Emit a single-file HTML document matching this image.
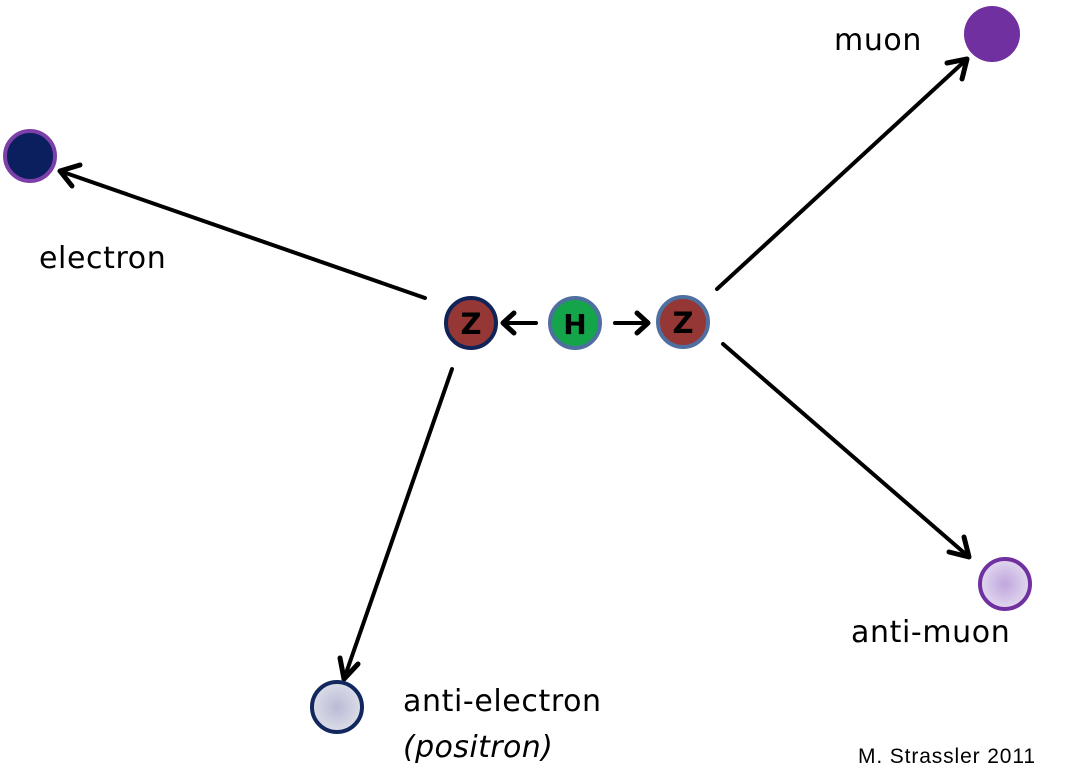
<!DOCTYPE html>
<html><head><meta charset="utf-8"><style>
html,body{margin:0;padding:0;background:#fff;width:1080px;height:779px;overflow:hidden}
svg{display:block}
text{font-family:"DejaVu Sans","Liberation Sans",sans-serif;fill:#000}
</style></head><body>
<svg width="1080" height="779" viewBox="0 0 1080 779" xmlns="http://www.w3.org/2000/svg">
<defs>
<radialGradient id="ge" cx="50%" cy="50%" r="50%"><stop offset="0" stop-color="#b9bbd6"/><stop offset="1" stop-color="#dcdde8"/></radialGradient>
<radialGradient id="gm" cx="50%" cy="50%" r="50%"><stop offset="0" stop-color="#bfa6dc"/><stop offset="1" stop-color="#e2d8ef"/></radialGradient>
</defs>
<g stroke="#000" stroke-width="4" fill="none" stroke-linecap="round" stroke-linejoin="round">
<line x1="425" y1="298" x2="60" y2="171"/>
<polyline points="80,165 60,171 72,186" stroke-width="5"/>
<line x1="717" y1="289" x2="967" y2="59"/>
<polyline points="947,63 967,59 962,79" stroke-width="5"/>
<line x1="723" y1="344" x2="969" y2="557"/>
<polyline points="964,537 969,557 949,552" stroke-width="5"/>
<line x1="452" y1="369" x2="344" y2="679"/>
<polyline points="340,658 344,679 358,664" stroke-width="5"/>
<line x1="536" y1="323" x2="503" y2="323"/>
<polyline points="514,313 503,323 514,333" stroke-width="5"/>
<line x1="615" y1="323" x2="648" y2="323"/>
<polyline points="637,313 648,323 637,333" stroke-width="5"/>
</g>
<circle cx="30" cy="156" r="25" fill="#0b1f5e" stroke="#7d40a8" stroke-width="4"/>
<circle cx="992" cy="34" r="28" fill="#7030a0"/>
<circle cx="1005" cy="584" r="25" fill="url(#gm)" stroke="#7030a0" stroke-width="4"/>
<circle cx="337" cy="707" r="25" fill="url(#ge)" stroke="#12275e" stroke-width="4"/>
<circle cx="471" cy="323" r="25" fill="#953735" stroke="#10245a" stroke-width="4"/>
<circle cx="575" cy="323" r="25" fill="#14a44a" stroke="#4f6fa0" stroke-width="4"/>
<circle cx="683" cy="322" r="25" fill="#953735" stroke="#4f6fa0" stroke-width="4"/>
<text x="471" y="334" font-size="29" text-anchor="middle" font-weight="bold">Z</text>
<text x="575" y="334" font-size="28" text-anchor="middle" font-weight="bold">H</text>
<text x="683" y="333" font-size="29" text-anchor="middle" font-weight="bold">Z</text>
<text x="834" y="50" font-size="30" letter-spacing="0.6">muon</text>
<text x="39" y="268" font-size="30" letter-spacing="0.6">electron</text>
<text x="851" y="642" font-size="30" letter-spacing="0.6">anti-muon</text>
<text x="403" y="711" font-size="30" letter-spacing="0.6">anti-electron</text>
<text x="403" y="757" font-size="30" font-style="italic" letter-spacing="0.4">(positron)</text>
<text x="858" y="763" font-size="21" style="font-family:'Liberation Sans',sans-serif" textLength="177">M. Strassler 2011</text>
</svg>
</body></html>
